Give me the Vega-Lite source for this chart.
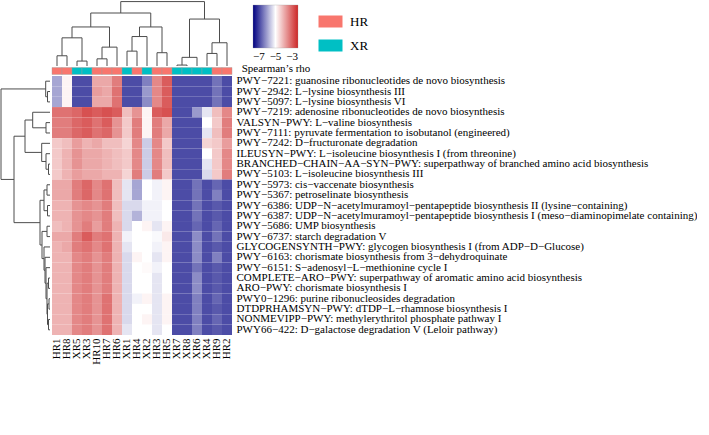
{
  "$schema": "https://vega.github.io/schema/vega-lite/v6.json",
  "padding": 0,
  "background": "white",
  "config": {"view": {"stroke": null}, "font": "Liberation Serif"},
  "datasets": {
    "heat": [
      {"pathway": "PWY−7221: guanosine ribonucleotides de novo biosynthesis", "HR1": -5.7, "HR8": -4.9, "XR5": -6.4, "XR3": -6.4, "HR10": -4.2, "HR7": -4.2, "HR6": -3.8, "XR1": -6.4, "HR4": -6.4, "XR2": -6.0, "HR3": -3.9, "HR5": -3.5, "XR7": -6.4, "XR8": -6.4, "XR6": -6.4, "XR4": -6.4, "HR9": -6.1, "HR2": -6.4},
      {"pathway": "PWY−2942: L−lysine biosynthesis III", "HR1": -5.7, "HR8": -4.9, "XR5": -6.4, "XR3": -6.4, "HR10": -4.1, "HR7": -4.2, "HR6": -3.7, "XR1": -6.4, "HR4": -6.4, "XR2": -5.8, "HR3": -3.9, "HR5": -3.5, "XR7": -6.4, "XR8": -6.4, "XR6": -6.4, "XR4": -6.4, "HR9": -6.1, "HR2": -6.4},
      {"pathway": "PWY−5097: L−lysine biosynthesis VI", "HR1": -5.7, "HR8": -4.9, "XR5": -6.4, "XR3": -6.4, "HR10": -4.2, "HR7": -4.2, "HR6": -3.7, "XR1": -6.4, "HR4": -6.4, "XR2": -5.9, "HR3": -3.9, "HR5": -3.5, "XR7": -6.4, "XR8": -6.4, "XR6": -6.4, "XR4": -6.4, "HR9": -6.1, "HR2": -6.4},
      {"pathway": "PWY−7219: adenosine ribonucleotides de novo biosynthesis", "HR1": -3.7, "HR8": -3.7, "XR5": -3.6, "XR3": -3.4, "HR10": -3.5, "HR7": -3.4, "HR6": -3.5, "XR1": -4.4, "HR4": -4.0, "XR2": -4.9, "HR3": -3.5, "HR5": -3.4, "XR7": -6.4, "XR8": -6.4, "XR6": -5.8, "XR4": -5.2, "HR9": -4.4, "HR2": -3.9},
      {"pathway": "VALSYN−PWY: L−valine biosynthesis", "HR1": -3.8, "HR8": -3.8, "XR5": -3.6, "XR3": -3.5, "HR10": -3.7, "HR7": -3.5, "HR6": -4.0, "XR1": -4.5, "HR4": -3.8, "XR2": -4.9, "HR3": -3.8, "HR5": -4.2, "XR7": -6.4, "XR8": -6.4, "XR6": -6.4, "XR4": -5.0, "HR9": -4.5, "HR2": -3.8},
      {"pathway": "PWY−7111: pyruvate fermentation to isobutanol (engineered)", "HR1": -3.8, "HR8": -3.8, "XR5": -3.6, "XR3": -3.5, "HR10": -3.7, "HR7": -3.6, "HR6": -4.0, "XR1": -4.5, "HR4": -3.8, "XR2": -4.9, "HR3": -3.8, "HR5": -4.2, "XR7": -6.4, "XR8": -6.4, "XR6": -6.4, "XR4": -5.2, "HR9": -4.4, "HR2": -3.8},
      {"pathway": "PWY−7242: D−fructuronate degradation", "HR1": -4.5, "HR8": -4.4, "XR5": -4.1, "XR3": -4.3, "HR10": -4.2, "HR7": -4.4, "HR6": -4.4, "XR1": -4.6, "HR4": -3.9, "XR2": -5.4, "HR3": -3.9, "HR5": -4.5, "XR7": -6.4, "XR8": -6.4, "XR6": -6.4, "XR4": -4.6, "HR9": -4.5, "HR2": -4.1},
      {"pathway": "ILEUSYN−PWY: L−isoleucine biosynthesis I (from threonine)", "HR1": -4.5, "HR8": -4.3, "XR5": -4.0, "XR3": -4.2, "HR10": -4.2, "HR7": -4.3, "HR6": -4.4, "XR1": -4.5, "HR4": -3.9, "XR2": -5.4, "HR3": -3.9, "HR5": -4.4, "XR7": -6.4, "XR8": -6.4, "XR6": -6.4, "XR4": -5.0, "HR9": -4.5, "HR2": -3.9},
      {"pathway": "BRANCHED−CHAIN−AA−SYN−PWY: superpathway of branched amino acid biosynthesis", "HR1": -4.5, "HR8": -4.3, "XR5": -4.0, "XR3": -4.2, "HR10": -4.2, "HR7": -4.3, "HR6": -4.4, "XR1": -4.5, "HR4": -3.9, "XR2": -5.4, "HR3": -3.9, "HR5": -4.4, "XR7": -6.4, "XR8": -6.4, "XR6": -6.4, "XR4": -5.2, "HR9": -4.5, "HR2": -3.9},
      {"pathway": "PWY−5103: L−isoleucine biosynthesis III", "HR1": -4.5, "HR8": -4.3, "XR5": -4.1, "XR3": -4.2, "HR10": -4.2, "HR7": -4.3, "HR6": -4.3, "XR1": -4.6, "HR4": -3.8, "XR2": -5.4, "HR3": -3.8, "HR5": -4.5, "XR7": -6.4, "XR8": -6.4, "XR6": -6.4, "XR4": -5.3, "HR9": -4.5, "HR2": -3.8},
      {"pathway": "PWY−5973: cis−vaccenate biosynthesis", "HR1": -4.2, "HR8": -4.2, "XR5": -3.8, "XR3": -3.6, "HR10": -3.9, "HR7": -3.7, "HR6": -4.4, "XR1": -5.2, "HR4": -5.7, "XR2": -5.0, "HR3": -5.1, "HR5": -4.9, "XR7": -6.4, "XR8": -6.4, "XR6": -6.1, "XR4": -6.4, "HR9": -6.2, "HR2": -6.4},
      {"pathway": "PWY−5367: petroselinate biosynthesis", "HR1": -4.2, "HR8": -4.2, "XR5": -3.8, "XR3": -3.6, "HR10": -3.9, "HR7": -3.7, "HR6": -4.4, "XR1": -5.2, "HR4": -5.7, "XR2": -5.0, "HR3": -5.1, "HR5": -4.9, "XR7": -6.4, "XR8": -6.4, "XR6": -6.1, "XR4": -6.4, "HR9": -6.0, "HR2": -6.4},
      {"pathway": "PWY−6386: UDP−N−acetylmuramoyl−pentapeptide biosynthesis II (lysine−containing)", "HR1": -4.3, "HR8": -4.3, "XR5": -4.0, "XR3": -3.9, "HR10": -4.0, "HR7": -3.8, "HR6": -4.4, "XR1": -5.3, "HR4": -5.3, "XR2": -5.1, "HR3": -5.1, "HR5": -5.0, "XR7": -6.4, "XR8": -6.4, "XR6": -6.1, "XR4": -6.4, "HR9": -6.3, "HR2": -6.4},
      {"pathway": "PWY−6387: UDP−N−acetylmuramoyl−pentapeptide biosynthesis I (meso−diaminopimelate containing)", "HR1": -4.3, "HR8": -4.3, "XR5": -4.0, "XR3": -3.9, "HR10": -4.0, "HR7": -3.8, "HR6": -4.4, "XR1": -5.3, "HR4": -5.6, "XR2": -5.1, "HR3": -5.1, "HR5": -5.0, "XR7": -6.4, "XR8": -6.4, "XR6": -6.1, "XR4": -6.4, "HR9": -6.3, "HR2": -6.4},
      {"pathway": "PWY−5686: UMP biosynthesis", "HR1": -4.4, "HR8": -4.3, "XR5": -4.0, "XR3": -3.8, "HR10": -4.1, "HR7": -3.8, "HR6": -4.3, "XR1": -5.3, "HR4": -5.0, "XR2": -4.9, "HR3": -5.2, "HR5": -4.9, "XR7": -6.4, "XR8": -6.4, "XR6": -6.2, "XR4": -6.4, "HR9": -6.2, "HR2": -6.4},
      {"pathway": "PWY−6737: starch degradation V", "HR1": -4.2, "HR8": -4.2, "XR5": -3.8, "XR3": -3.5, "HR10": -3.8, "HR7": -3.7, "HR6": -4.3, "XR1": -5.1, "HR4": -5.0, "XR2": -5.0, "HR3": -5.05, "HR5": -4.8, "XR7": -6.4, "XR8": -6.4, "XR6": -5.9, "XR4": -6.4, "HR9": -6.1, "HR2": -6.4},
      {"pathway": "GLYCOGENSYNTH−PWY: glycogen biosynthesis I (from ADP−D−Glucose)", "HR1": -4.3, "HR8": -4.2, "XR5": -3.8, "XR3": -3.7, "HR10": -3.9, "HR7": -3.7, "HR6": -4.3, "XR1": -5.2, "HR4": -5.0, "XR2": -5.0, "HR3": -5.1, "HR5": -4.9, "XR7": -6.4, "XR8": -6.4, "XR6": -5.9, "XR4": -6.4, "HR9": -6.3, "HR2": -6.4},
      {"pathway": "PWY−6163: chorismate biosynthesis from 3−dehydroquinate", "HR1": -4.3, "HR8": -4.3, "XR5": -3.9, "XR3": -3.8, "HR10": -4.0, "HR7": -3.8, "HR6": -4.3, "XR1": -5.3, "HR4": -4.9, "XR2": -5.0, "HR3": -5.2, "HR5": -4.9, "XR7": -6.4, "XR8": -6.4, "XR6": -5.9, "XR4": -6.4, "HR9": -6.0, "HR2": -6.4},
      {"pathway": "PWY−6151: S−adenosyl−L−methionine cycle I", "HR1": -4.3, "HR8": -4.3, "XR5": -3.9, "XR3": -3.8, "HR10": -4.0, "HR7": -3.8, "HR6": -4.3, "XR1": -5.3, "HR4": -5.0, "XR2": -4.95, "HR3": -5.1, "HR5": -5.0, "XR7": -6.4, "XR8": -6.4, "XR6": -6.1, "XR4": -6.4, "HR9": -6.3, "HR2": -6.4},
      {"pathway": "COMPLETE−ARO−PWY: superpathway of aromatic amino acid biosynthesis", "HR1": -4.3, "HR8": -4.3, "XR5": -3.9, "XR3": -3.8, "HR10": -4.0, "HR7": -3.8, "HR6": -4.3, "XR1": -5.3, "HR4": -5.0, "XR2": -5.0, "HR3": -5.2, "HR5": -5.0, "XR7": -6.4, "XR8": -6.4, "XR6": -5.9, "XR4": -6.4, "HR9": -6.3, "HR2": -6.4},
      {"pathway": "ARO−PWY: chorismate biosynthesis I", "HR1": -4.3, "HR8": -4.3, "XR5": -3.9, "XR3": -3.8, "HR10": -4.0, "HR7": -3.8, "HR6": -4.3, "XR1": -5.3, "HR4": -5.0, "XR2": -5.0, "HR3": -5.2, "HR5": -5.0, "XR7": -6.4, "XR8": -6.4, "XR6": -5.9, "XR4": -6.4, "HR9": -6.3, "HR2": -6.4},
      {"pathway": "PWY0−1296: purine ribonucleosides degradation", "HR1": -4.3, "HR8": -4.3, "XR5": -3.9, "XR3": -3.8, "HR10": -4.0, "HR7": -3.7, "HR6": -4.3, "XR1": -5.3, "HR4": -5.1, "XR2": -4.9, "HR3": -5.2, "HR5": -4.9, "XR7": -6.4, "XR8": -6.4, "XR6": -6.0, "XR4": -6.4, "HR9": -6.2, "HR2": -6.4},
      {"pathway": "DTDPRHAMSYN−PWY: dTDP−L−rhamnose biosynthesis I", "HR1": -4.3, "HR8": -4.3, "XR5": -3.9, "XR3": -3.8, "HR10": -4.0, "HR7": -3.7, "HR6": -4.3, "XR1": -5.3, "HR4": -5.0, "XR2": -5.0, "HR3": -5.2, "HR5": -4.9, "XR7": -6.4, "XR8": -6.4, "XR6": -6.0, "XR4": -6.4, "HR9": -6.3, "HR2": -6.4},
      {"pathway": "NONMEVIPP−PWY: methylerythritol phosphate pathway I", "HR1": -4.3, "HR8": -4.3, "XR5": -3.9, "XR3": -3.8, "HR10": -4.0, "HR7": -3.7, "HR6": -4.3, "XR1": -5.3, "HR4": -5.0, "XR2": -4.9, "HR3": -5.2, "HR5": -4.9, "XR7": -6.4, "XR8": -6.4, "XR6": -6.0, "XR4": -6.4, "HR9": -6.2, "HR2": -6.4},
      {"pathway": "PWY66−422: D−galactose degradation V (Leloir pathway)", "HR1": -4.3, "HR8": -4.3, "XR5": -3.9, "XR3": -3.8, "HR10": -4.0, "HR7": -3.7, "HR6": -4.3, "XR1": -5.2, "HR4": -5.0, "XR2": -5.0, "HR3": -5.2, "HR5": -5.0, "XR7": -6.4, "XR8": -6.4, "XR6": -6.0, "XR4": -6.4, "HR9": -6.3, "HR2": -6.4}
    ],
    "groups": [
      {"sample": "HR1", "group": "HR"}, {"sample": "HR8", "group": "HR"}, {"sample": "XR5", "group": "XR"}, {"sample": "XR3", "group": "XR"},
      {"sample": "HR10", "group": "HR"}, {"sample": "HR7", "group": "HR"}, {"sample": "HR6", "group": "HR"}, {"sample": "XR1", "group": "XR"},
      {"sample": "HR4", "group": "HR"}, {"sample": "XR2", "group": "XR"}, {"sample": "HR3", "group": "HR"}, {"sample": "HR5", "group": "HR"},
      {"sample": "XR7", "group": "XR"}, {"sample": "XR8", "group": "XR"}, {"sample": "XR6", "group": "XR"}, {"sample": "XR4", "group": "XR"},
      {"sample": "HR9", "group": "HR"}, {"sample": "HR2", "group": "HR"}
    ],
    "coltree": [
      {"pos": 0.5, "pos2": 0.5, "h": 0, "h2": 11}, {"pos": 1.5, "pos2": 1.5, "h": 0, "h2": 11}, {"pos": 0.5, "pos2": 1.5, "h": 11, "h2": 11},
      {"pos": 2.5, "pos2": 2.5, "h": 0, "h2": 5.3}, {"pos": 3.5, "pos2": 3.5, "h": 0, "h2": 5.3}, {"pos": 2.5, "pos2": 3.5, "h": 5.3, "h2": 5.3},
      {"pos": 1.0, "pos2": 1.0, "h": 11, "h2": 30.3}, {"pos": 3.0, "pos2": 3.0, "h": 5.3, "h2": 30.3}, {"pos": 1.0, "pos2": 3.0, "h": 30.3, "h2": 30.3},
      {"pos": 4.5, "pos2": 4.5, "h": 0, "h2": 7.7}, {"pos": 5.5, "pos2": 5.5, "h": 0, "h2": 7.7}, {"pos": 4.5, "pos2": 5.5, "h": 7.7, "h2": 7.7},
      {"pos": 5.0, "pos2": 5.0, "h": 7.7, "h2": 20.3}, {"pos": 6.5, "pos2": 6.5, "h": 0, "h2": 20.3}, {"pos": 5.0, "pos2": 6.5, "h": 20.3, "h2": 20.3},
      {"pos": 2.0, "pos2": 2.0, "h": 30.3, "h2": 42}, {"pos": 5.75, "pos2": 5.75, "h": 20.3, "h2": 42}, {"pos": 2.0, "pos2": 5.75, "h": 42, "h2": 42},
      {"pos": 7.5, "pos2": 7.5, "h": 0, "h2": 16}, {"pos": 8.5, "pos2": 8.5, "h": 0, "h2": 16}, {"pos": 7.5, "pos2": 8.5, "h": 16, "h2": 16},
      {"pos": 8.0, "pos2": 8.0, "h": 16, "h2": 31.7}, {"pos": 9.5, "pos2": 9.5, "h": 0, "h2": 31.7}, {"pos": 8.0, "pos2": 9.5, "h": 31.7, "h2": 31.7},
      {"pos": 10.5, "pos2": 10.5, "h": 0, "h2": 14.3}, {"pos": 11.5, "pos2": 11.5, "h": 0, "h2": 14.3}, {"pos": 10.5, "pos2": 11.5, "h": 14.3, "h2": 14.3},
      {"pos": 8.75, "pos2": 8.75, "h": 31.7, "h2": 42}, {"pos": 11.0, "pos2": 11.0, "h": 14.3, "h2": 42}, {"pos": 8.75, "pos2": 11.0, "h": 42, "h2": 42},
      {"pos": 3.875, "pos2": 3.875, "h": 42, "h2": 57}, {"pos": 9.875, "pos2": 9.875, "h": 42, "h2": 57}, {"pos": 3.875, "pos2": 9.875, "h": 57, "h2": 57},
      {"pos": 12.5, "pos2": 12.5, "h": 0, "h2": 1}, {"pos": 13.5, "pos2": 13.5, "h": 0, "h2": 1}, {"pos": 12.5, "pos2": 13.5, "h": 1, "h2": 1},
      {"pos": 13.0, "pos2": 13.0, "h": 1, "h2": 9.3}, {"pos": 14.5, "pos2": 14.5, "h": 0, "h2": 9.3}, {"pos": 13.0, "pos2": 14.5, "h": 9.3, "h2": 9.3},
      {"pos": 15.5, "pos2": 15.5, "h": 0, "h2": 13.5}, {"pos": 16.5, "pos2": 16.5, "h": 0, "h2": 13.5}, {"pos": 15.5, "pos2": 16.5, "h": 13.5, "h2": 13.5},
      {"pos": 16.0, "pos2": 16.0, "h": 13.5, "h2": 25}, {"pos": 17.5, "pos2": 17.5, "h": 0, "h2": 25}, {"pos": 16.0, "pos2": 17.5, "h": 25, "h2": 25},
      {"pos": 13.75, "pos2": 13.75, "h": 9.3, "h2": 50.5}, {"pos": 16.75, "pos2": 16.75, "h": 25, "h2": 50.5}, {"pos": 13.75, "pos2": 16.75, "h": 50.5, "h2": 50.5},
      {"pos": 6.875, "pos2": 6.875, "h": 57, "h2": 69.3}, {"pos": 15.25, "pos2": 15.25, "h": 50.5, "h2": 69.3}, {"pos": 6.875, "pos2": 15.25, "h": 69.3, "h2": 69.3}
    ],
    "rowtree": [
      {"pos": 1.5, "pos2": 1.5, "h": 0, "h2": 2.5}, {"pos": 2.5, "pos2": 2.5, "h": 0, "h2": 2.5}, {"pos": 1.5, "pos2": 2.5, "h": 2.5, "h2": 2.5},
      {"pos": 0.5, "pos2": 0.5, "h": 0, "h2": 4.3}, {"pos": 2.0, "pos2": 2.0, "h": 2.5, "h2": 4.3}, {"pos": 0.5, "pos2": 2.0, "h": 4.3, "h2": 4.3},
      {"pos": 4.5, "pos2": 4.5, "h": 0, "h2": 4}, {"pos": 5.5, "pos2": 5.5, "h": 0, "h2": 4}, {"pos": 4.5, "pos2": 5.5, "h": 4, "h2": 4},
      {"pos": 3.5, "pos2": 3.5, "h": 0, "h2": 17.3}, {"pos": 5.0, "pos2": 5.0, "h": 4, "h2": 17.3}, {"pos": 3.5, "pos2": 5.0, "h": 17.3, "h2": 17.3},
      {"pos": 8.5, "pos2": 8.5, "h": 0, "h2": 1.5}, {"pos": 9.5, "pos2": 9.5, "h": 0, "h2": 1.5}, {"pos": 8.5, "pos2": 9.5, "h": 1.5, "h2": 1.5},
      {"pos": 7.5, "pos2": 7.5, "h": 0, "h2": 4}, {"pos": 9.0, "pos2": 9.0, "h": 1.5, "h2": 4}, {"pos": 7.5, "pos2": 9.0, "h": 4, "h2": 4},
      {"pos": 6.5, "pos2": 6.5, "h": 0, "h2": 8.3}, {"pos": 8.25, "pos2": 8.25, "h": 4, "h2": 8.3}, {"pos": 6.5, "pos2": 8.25, "h": 8.3, "h2": 8.3},
      {"pos": 4.25, "pos2": 4.25, "h": 17.3, "h2": 25}, {"pos": 7.375, "pos2": 7.375, "h": 8.3, "h2": 25}, {"pos": 4.25, "pos2": 7.375, "h": 25, "h2": 25},
      {"pos": 10.5, "pos2": 10.5, "h": 0, "h2": 3}, {"pos": 11.5, "pos2": 11.5, "h": 0, "h2": 3}, {"pos": 10.5, "pos2": 11.5, "h": 3, "h2": 3},
      {"pos": 12.5, "pos2": 12.5, "h": 0, "h2": 2.5}, {"pos": 13.5, "pos2": 13.5, "h": 0, "h2": 2.5}, {"pos": 12.5, "pos2": 13.5, "h": 2.5, "h2": 2.5},
      {"pos": 11.0, "pos2": 11.0, "h": 3, "h2": 6}, {"pos": 13.0, "pos2": 13.0, "h": 2.5, "h2": 6}, {"pos": 11.0, "pos2": 13.0, "h": 6, "h2": 6},
      {"pos": 14.5, "pos2": 14.5, "h": 0, "h2": 3}, {"pos": 15.5, "pos2": 15.5, "h": 0, "h2": 3}, {"pos": 14.5, "pos2": 15.5, "h": 3, "h2": 3},
      {"pos": 19.5, "pos2": 19.5, "h": 0, "h2": 1.5}, {"pos": 20.5, "pos2": 20.5, "h": 0, "h2": 1.5}, {"pos": 19.5, "pos2": 20.5, "h": 1.5, "h2": 1.5},
      {"pos": 21.5, "pos2": 21.5, "h": 0, "h2": 1}, {"pos": 22.5, "pos2": 22.5, "h": 0, "h2": 1}, {"pos": 21.5, "pos2": 22.5, "h": 1, "h2": 1},
      {"pos": 23.5, "pos2": 23.5, "h": 0, "h2": 1.5}, {"pos": 24.5, "pos2": 24.5, "h": 0, "h2": 1.5}, {"pos": 23.5, "pos2": 24.5, "h": 1.5, "h2": 1.5},
      {"pos": 22.0, "pos2": 22.0, "h": 1, "h2": 2.5}, {"pos": 24.0, "pos2": 24.0, "h": 1.5, "h2": 2.5}, {"pos": 22.0, "pos2": 24.0, "h": 2.5, "h2": 2.5},
      {"pos": 20.0, "pos2": 20.0, "h": 1.5, "h2": 3}, {"pos": 23.0, "pos2": 23.0, "h": 2.5, "h2": 3}, {"pos": 20.0, "pos2": 23.0, "h": 3, "h2": 3},
      {"pos": 18.5, "pos2": 18.5, "h": 0, "h2": 4}, {"pos": 21.5, "pos2": 21.5, "h": 3, "h2": 4}, {"pos": 18.5, "pos2": 21.5, "h": 4, "h2": 4},
      {"pos": 17.5, "pos2": 17.5, "h": 0, "h2": 5}, {"pos": 20.0, "pos2": 20.0, "h": 4, "h2": 5}, {"pos": 17.5, "pos2": 20.0, "h": 5, "h2": 5},
      {"pos": 16.5, "pos2": 16.5, "h": 0, "h2": 6}, {"pos": 18.75, "pos2": 18.75, "h": 5, "h2": 6}, {"pos": 16.5, "pos2": 18.75, "h": 6, "h2": 6},
      {"pos": 15.0, "pos2": 15.0, "h": 3, "h2": 8}, {"pos": 17.625, "pos2": 17.625, "h": 6, "h2": 8}, {"pos": 15.0, "pos2": 17.625, "h": 8, "h2": 8},
      {"pos": 12.0, "pos2": 12.0, "h": 6, "h2": 10}, {"pos": 16.3125, "pos2": 16.3125, "h": 8, "h2": 10}, {"pos": 12.0, "pos2": 16.3125, "h": 10, "h2": 10},
      {"pos": 5.8125, "pos2": 5.8125, "h": 25, "h2": 36}, {"pos": 14.156, "pos2": 14.156, "h": 10, "h2": 36}, {"pos": 5.8125, "pos2": 14.156, "h": 36, "h2": 36},
      {"pos": 1.25, "pos2": 1.25, "h": 4.3, "h2": 49}, {"pos": 9.984, "pos2": 9.984, "h": 36, "h2": 49}, {"pos": 1.25, "pos2": 9.984, "h": 49, "h2": 49}
    ]
  },
  "columns": 2,
  "spacing": {"row": 1.5, "column": 0},
  "bounds": "flush",
  "align": "each",
  "concat": [
    {
      "width": 52, "height": 66,
      "data": {"values": []},
      "mark": "point"
    },
    {
      "width": 180, "height": 66,
      "data": {"name": "coltree"},
      "mark": {"type": "rule", "color": "#4d4d4d", "strokeWidth": 1},
      "encoding": {
        "x": {"field": "pos", "type": "quantitative", "scale": {"domain": [0, 18], "nice": false, "zero": false}, "axis": null},
        "x2": {"field": "pos2"},
        "y": {"field": "h", "type": "quantitative", "scale": {"domain": [0, 71], "nice": false, "zero": false}, "axis": null},
        "y2": {"field": "h2"}
      }
    },
    {
      "width": 52, "height": 7,
      "data": {"values": []},
      "mark": "point"
    },
    {
      "width": 180, "height": 7,
      "data": {"name": "groups"},
      "mark": {"type": "rect", "stroke": "#a0a0a0", "strokeWidth": 0.4},
      "encoding": {
        "x": {"field": "sample", "type": "nominal", "sort": ["HR1","HR8","XR5","XR3","HR10","HR7","HR6","XR1","HR4","XR2","HR3","HR5","XR7","XR8","XR6","XR4","HR9","HR2"], "scale": {"paddingInner": 0, "paddingOuter": 0}, "axis": null},
        "fill": {
          "field": "group", "type": "nominal",
          "scale": {"domain": ["HR", "XR"], "range": ["#F8766D", "#00BFC4"]},
          "legend": {"title": null, "orient": "none", "legendX": 324, "legendY": 15, "direction": "vertical", "padding": 0,
            "symbolType": "M-2,-1H2V1H-2Z", "symbolSize": 144, "symbolStrokeWidth": 0, "symbolOpacity": 1,
            "labelFont": "Liberation Serif", "labelFontSize": 13, "labelColor": "black", "labelOffset": 13, "rowPadding": 10}
        }
      }
    },
    {
      "width": 52, "height": 259,
      "data": {"name": "rowtree"},
      "mark": {"type": "rule", "color": "#4d4d4d", "strokeWidth": 1},
      "encoding": {
        "x": {"field": "h", "type": "quantitative", "scale": {"domain": [50, -2], "nice": false, "zero": false}, "axis": null},
        "x2": {"field": "h2"},
        "y": {"field": "pos", "type": "quantitative", "scale": {"domain": [0, 25], "nice": false, "zero": false, "reverse": true}, "axis": null},
        "y2": {"field": "pos2"}
      }
    },
    {
      "width": 180, "height": 259,
      "data": {"name": "heat"},
      "transform": [{"fold": ["HR1","HR8","XR5","XR3","HR10","HR7","HR6","XR1","HR4","XR2","HR3","HR5","XR7","XR8","XR6","XR4","HR9","HR2"], "as": ["sample", "rho"]}],
      "mark": {"type": "rect"},
      "encoding": {
        "x": {"field": "sample", "type": "nominal", "sort": ["HR1","HR8","XR5","XR3","HR10","HR7","HR6","XR1","HR4","XR2","HR3","HR5","XR7","XR8","XR6","XR4","HR9","HR2"], "scale": {"paddingInner": 0, "paddingOuter": 0},
          "axis": {"title": null, "orient": "bottom", "labelAngle": -90, "ticks": false, "domain": false, "labelPadding": 3, "labelFont": "Liberation Serif", "labelFontSize": 11, "labelColor": "black"}},
        "y": {"field": "pathway", "type": "nominal", "sort": null, "scale": {"paddingInner": 0, "paddingOuter": 0},
          "axis": {"title": null, "orient": "right", "ticks": false, "domain": false, "labelPadding": 4, "labelLimit": 0, "labelFont": "Liberation Serif", "labelFontSize": 11, "labelColor": "black"}},
        "color": {
          "field": "rho", "type": "quantitative",
          "scale": {"domain": [-7, -5, -3], "range": ["#000080", "#ffffff", "#cd2626"], "interpolate": "rgb"},
          "legend": {"title": "Spearman’s rho", "orient": "none", "legendX": 242, "legendY": 5, "direction": "horizontal", "padding": 0,
            "gradientLength": 45, "gradientThickness": 43, "gradientStrokeColor": "#999999", "gradientStrokeWidth": 0.3,
            "values": [-7, -5, -3], "format": "d", "labelAlign": "center", "labelFont": "Liberation Serif", "labelFontSize": 11, "labelColor": "black", "labelOffset": 3,
            "titleOrient": "bottom", "titleAnchor": "middle", "titleFont": "Liberation Serif", "titleFontSize": 11, "titleFontWeight": "normal", "titleColor": "black", "titlePadding": 1}
        }
      }
    }
  ]
}
